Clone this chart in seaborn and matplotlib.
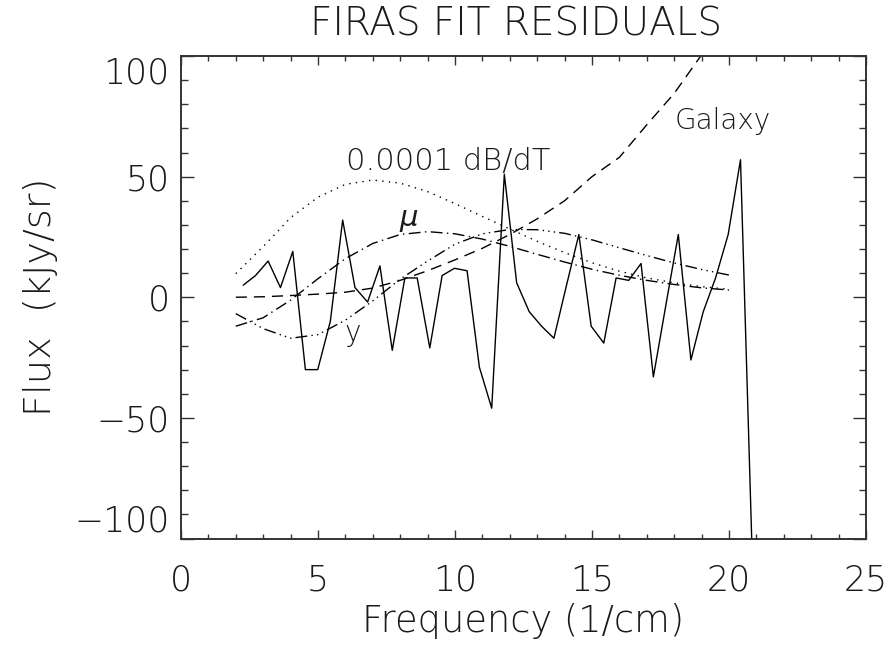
import matplotlib
matplotlib.use("Agg")
import matplotlib.pyplot as plt
from matplotlib.ticker import MultipleLocator
import pandas as pd
import seaborn as sns

# FIRAS residual spectrum (kJy/sr) at the instrument frequencies (1/cm)
freq = [2.27, 2.72, 3.18, 3.63, 4.08, 4.54, 4.99, 5.45, 5.90, 6.35, 6.81,
        7.26, 7.71, 8.17, 8.62, 9.08, 9.53, 9.98, 10.44, 10.89, 11.34, 11.80,
        12.25, 12.71, 13.16, 13.61, 14.07, 14.52, 14.97, 15.43, 15.88, 16.34,
        16.79, 17.24, 17.70, 18.15, 18.61, 19.06, 19.51, 19.97, 20.42, 20.87]
residual = [5, 9, 15, 4, 19, -30, -30, -10, 32, 4, -2,
            13, -22, 8, 8, -21, 9, 12, 11, -29, -46, 51,
            6, -6, -12, -17, 5, 26, -12, -19, 8, 7,
            14, -33, -3, 26, -26, -6, 8, 26, 57, -116]

# Spectral shapes of the fitted components, sampled at whole wavenumbers
model_freq = [2, 3, 4, 5, 6, 7, 8, 9, 10, 11, 12, 13, 14, 15, 16, 17, 18, 19, 20]
dbdt = [9.8, 21, 33, 41.5, 46.8, 48.6, 47.3, 43.8, 38.8, 33.5, 28.3, 23.2,
        18.5, 14.3, 10.8, 8.0, 6.0, 4.4, 3.3]
mu_shape = [-12, -8.5, -1.2, 7.7, 16, 22.3, 26, 27.2, 26.3, 24.1, 21.1, 17.8,
            14.6, 11.6, 9.1, 7.0, 5.3, 3.9, 3.0]
y_shape = [-6.8, -13, -17, -15.5, -9.5, -1.5, 7.5, 15, 22, 26.3, 28.1, 28,
           26.5, 23.8, 20.5, 17.3, 14.2, 11.5, 9.2]
galaxy = [0, 0.2, 0.7, 1.3, 2.1, 3.8, 7, 11, 15.5, 20.3, 26, 32.5, 40, 50,
          58, 71.5, 84.5, 100.5, 117]

x_ticks = [0, 5, 10, 15, 20, 25]
x_tick_labels = ["0", "5", "10", "15", "20", "25"]
y_ticks = [-100, -50, 0, 50, 100]
y_tick_labels = ["\u2212100", "\u221250", "0", "50", "100"]

sns.set_theme(style="white")
plt.rcParams["font.family"] = ["DejaVu Sans"]
plt.rcParams["font.weight"] = 200
plt.rcParams["axes.labelweight"] = 200
plt.rcParams["axes.titleweight"] = 200

W, H = 887, 647
fig = plt.figure(figsize=(W / 100, H / 100), dpi=100)
fig.patch.set_facecolor("white")
left, right, top, bottom = 181, 866, 56, 538.5
ax = fig.add_axes([left / W, 1 - bottom / H, (right - left) / W, (bottom - top) / H])
ax.set_facecolor("white")

ink = "black"
text_ink = "#1a1a1a"


def draw(x, y, dashes=None):
    frame = pd.DataFrame({"x": x, "y": y})
    sns.lineplot(data=frame, x="x", y="y", ax=ax, color=ink, linewidth=1.0,
                 sort=False, estimator=None)
    line = ax.lines[-1]
    if dashes is not None:
        line.set_dashes(dashes)
    return line


draw(freq, residual)
draw(model_freq, galaxy, (8.0, 5.0))
draw(model_freq, dbdt, (1.0, 3.8))
draw(model_freq, mu_shape, (8.5, 3.2, 1.0, 3.2))
draw(model_freq, y_shape, (8.5, 3.0, 1.0, 3.0, 1.0, 3.0, 1.0, 3.0))

ax.set_xlim(0, 25)
ax.set_ylim(-100, 100)
ax.set_xticks(x_ticks)
ax.set_xticklabels(x_tick_labels)
ax.set_yticks(y_ticks)
ax.set_yticklabels(y_tick_labels)
ax.xaxis.set_minor_locator(MultipleLocator(1))
ax.yaxis.set_minor_locator(MultipleLocator(10))

ax.tick_params(axis="x", which="major", direction="in", length=6.5, width=1.0,
               top=True, bottom=True, labelsize=25, pad=18, colors="#333333",
               labelcolor=text_ink)
ax.tick_params(axis="x", which="minor", direction="in", length=3.5, width=1.0,
               top=True, bottom=True, colors="#333333")
ax.tick_params(axis="y", which="major", direction="in", length=9.5, width=1.0,
               left=True, right=True, labelsize=25, pad=8, colors="#333333",
               labelcolor=text_ink)
ax.tick_params(axis="y", which="minor", direction="in", length=5, width=1.0,
               left=True, right=True, colors="#333333")
for spine in ax.spines.values():
    spine.set_color("#333333")
    spine.set_linewidth(1.4)

# the end labels of the flux axis sit inside the frame height
y_major = ax.yaxis.get_major_ticks()
y_major[0].label1.set_verticalalignment("bottom")
y_major[-1].label1.set_verticalalignment("top")

ax.set_xlabel("Frequency (1/cm)", fontsize=26.5, fontweight=200, color=text_ink,
              labelpad=4)
ax.set_ylabel("Flux  (kJy/sr)", fontsize=27.5, fontweight=200, color=text_ink,
              labelpad=12)
fig.text(0.582, 1 - 36 / H, "FIRAS FIT RESIDUALS", ha="center", va="baseline",
         fontsize=28, fontweight=200, color=text_ink)

ax.text(6.04, 52.8, "0.0001 dB/dT", fontsize=22, fontweight=200,
        color=text_ink, va="baseline")
ax.text(18.0, 69.7, "Galaxy", fontsize=20, fontweight=200, color=text_ink,
        va="baseline")
ax.text(7.98, 29.6, "\u03bc", fontsize=21, fontweight=200, style="italic",
        color=text_ink, va="baseline")
ax.text(5.98, -18.0, "y", fontsize=20, fontweight=200, color=text_ink,
        va="baseline")

fig.savefig("out.png", dpi=100, facecolor="white")
